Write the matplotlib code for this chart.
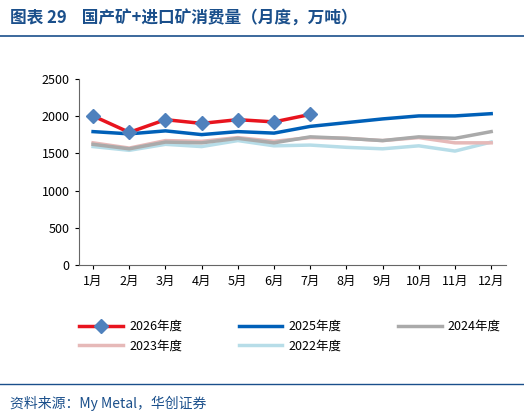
import matplotlib
matplotlib.use("Agg")
import matplotlib.pyplot as plt
from matplotlib.lines import Line2D

plt.rcParams['font.family'] = ['Noto Sans CJK SC', 'DejaVu Sans']

months = ['1月','2月','3月','4月','5月','6月','7月','8月','9月','10月','11月','12月']
y2026 = [2000, 1780, 1950, 1900, 1950, 1920, 2020]
y2025 = [1790, 1760, 1800, 1750, 1790, 1770, 1860, 1910, 1960, 2000, 2000, 2030]
y2024 = [1620, 1560, 1650, 1640, 1700, 1640, 1720, 1700, 1670, 1720, 1700, 1790]
y2023 = [1640, 1570, 1670, 1660, 1710, 1660, 1710, 1700, 1670, 1710, 1640, 1640]
y2022 = [1590, 1540, 1620, 1590, 1670, 1600, 1610, 1580, 1560, 1600, 1530, 1650]

fig = plt.figure(figsize=(5.24, 4.2), dpi=100)
ax = fig.add_axes([0.15, 0.368, 0.815, 0.445])
x = list(range(12))
l22, = ax.plot(x, y2022, color='#b7dde8', lw=2.5, label='2022年度')
l23, = ax.plot(x, y2023, color='#e6b9b8', lw=2.5, label='2023年度')
l24, = ax.plot(x, y2024, color='#aaaaaa', lw=2.5, label='2024年度')
l25, = ax.plot(x, y2025, color='#0060b8', lw=2.5, label='2025年度')
l26, = ax.plot(x[:7], y2026, color='#e8141e', lw=2.5, marker='D', ms=7,
               mfc='#4f81bd', mec='#4f81bd', label='2026年度')
ax.set_ylim(0, 2500)
ax.set_yticks(range(0, 2501, 500))
ax.set_xlim(-0.4, 11.4)
ax.set_xticks(x)
ax.set_xticklabels(months)
ax.tick_params(labelsize=9, length=3)
for s in ['top', 'right']:
    ax.spines[s].set_visible(False)
ax.spines['left'].set_color('#666666')
ax.spines['bottom'].set_color('#666666')

fig.legend(handles=[l26, l23, l25, l22, l24], loc='upper left',
           bbox_to_anchor=(0.13, 0.265), ncol=3, frameon=False, fontsize=9,
           handlelength=3.5, columnspacing=4.5, handletextpad=0.5)

fig.text(0.02, 0.955, '图表 29    国产矿+进口矿消费量（月度，万吨）', fontsize=12,
         fontweight='bold', color='#1a4f8b', va='center')
fig.add_artist(Line2D([0.0, 1.0], [0.915, 0.915], color='#1a4f8b', lw=1.2))
fig.add_artist(Line2D([0.0, 1.0], [0.085, 0.085], color='#1a4f8b', lw=1.0))
fig.text(0.02, 0.04, '资料来源：My Metal，华创证券', fontsize=10, style='italic',
         color='#1a4f8b', va='center')
fig.savefig('out.png', dpi=100)
